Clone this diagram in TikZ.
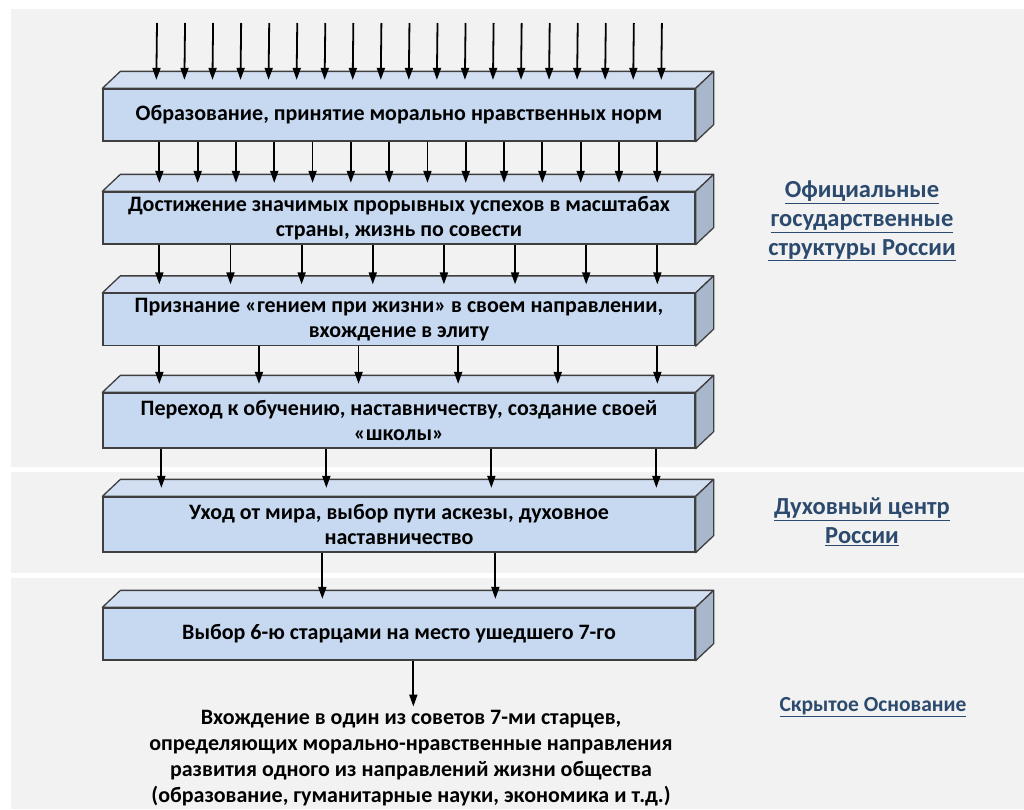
\documentclass[tikz,border=0pt]{standalone}
\usepackage{fontspec}
\setmainfont{Carlito}
\usetikzlibrary{arrows.meta,calc}
\definecolor{bandgray}{HTML}{F2F2F2}
\definecolor{slabfront}{HTML}{C6D9F1}
\definecolor{slabtop}{HTML}{D2DFF2}
\definecolor{slabside}{HTML}{A8B7CB}
\definecolor{slabline}{HTML}{3F3F3F}
\definecolor{labelblue}{HTML}{2B4A6D}

\begin{document}
\begin{tikzpicture}[x=1pt,y=-1pt,
    slab/.style={draw=slabline, line width=1.3pt, fill=slabfront, minimum width=592pt,
      minimum height=52pt, inner sep=0pt, align=center,
      font=\bfseries\fontsize{22}{25}\selectfont},
    face/.style={draw=slabline, line width=1.3pt, line join=round},
    flow/.style={-{Triangle[length=12pt,width=8pt]}, line width=1.8pt},
    side/.style={text=labelblue, align=center, font=\bfseries\fontsize{24.5}{29}\selectfont},
    goaltext/.style={align=center, font=\bfseries\fontsize{22}{26}\selectfont}]

      % background bands
      \fill[white] (0,0) rectangle (1024,809);
      \fill[bandgray] (11,9) rectangle (1024,467);
      \fill[bandgray] (11,472) rectangle (1024,573);
      \fill[bandgray] (11,578) rectangle (1024,809);
      \useasboundingbox (0,0) rectangle (1024,809);

      \node[slab] (b1) at (399,115) {Образование, принятие морально нравственных норм};
      \node[slab] (b2) at (399,218) {Достижение значимых прорывных успехов в масштабах\\страны, жизнь по совести};
      \node[slab] (b3) at (399,319.5) {Признание «гением при жизни» в своем направлении,\\вхождение в элиту};
      \node[slab, minimum height=55pt] (b4) at (399,420.5) {Переход к обучению, наставничеству, создание своей\\«школы»};
      \node[slab, minimum height=55pt] (b5) at (399,524.5) {Уход от мира, выбор пути аскезы, духовное\\наставничество};
      \node[slab] (b6) at (399,634) {Выбор 6-ю старцами на место ушедшего 7-го};

      % top and side faces
      \foreach \b in {b1,b2,b3,b4,b5,b6} {
        \filldraw[face, fill=slabtop] (\b.north west) -- ++(18,-17)
          -- ($(\b.north east)+(18,-17)$) -- (\b.north east) -- cycle;
        \filldraw[face, fill=slabside] (\b.north east) -- ++(18,-17)
          -- ($(\b.south east)+(18,-17)$) -- (\b.south east) -- cycle;
        \coordinate (t\b) at ($(\b.north west)+(0,-8.5)$);
      }

      \node[goaltext] (goal) at (411,758) {Вхождение в один из советов 7-ми старцев,\\определяющих морально-нравственные направления\\развития одного из направлений жизни общества\\(образование, гуманитарные науки, экономика и т.д.)};

      \node[side] (official) at (862,221) {\underline{Официальные}\\\underline{государственные}\\\underline{структуры России}};
      \node[side] (spirit) at (862,522) {\underline{Духовный центр}\\\underline{России}};
      \node[side, font=\bfseries\fontsize{21.5}{26}\selectfont] (hidden) at (873,707) {\underline{Скрытое Основание}};

      % arrows, thinning out row by row
      \coordinate (feed) at (103,23);
      \foreach \i [evaluate=\i as \o using 54+28.05*\i] in {0,...,18}
        \draw[flow] ([xshift=\o pt]feed) -- ([xshift=\o pt]tb1);
      \foreach \i [evaluate=\i as \o using 57+38.3*\i] in {0,...,13}
        \draw[flow] ([xshift=\o pt]b1.south west) -- ([xshift=\o pt]tb2);
      \foreach \i [evaluate=\i as \o using 57+71.14*\i] in {0,...,7}
        \draw[flow] ([xshift=\o pt]b2.south west) -- ([xshift=\o pt]tb3);
      \foreach \i [evaluate=\i as \o using 57+99.6*\i] in {0,...,5}
        \draw[flow] ([xshift=\o pt]b3.south west) -- ([xshift=\o pt]tb4);
      \foreach \i [evaluate=\i as \o using 59+165*\i] in {0,...,3}
        \draw[flow] ([xshift=\o pt]b4.south west) -- ([xshift=\o pt]tb5);
      \foreach \o in {220,393}
        \draw[flow] ([xshift=\o pt]b5.south west) -- ([xshift=\o pt]tb6);
      \coordinate (drop) at ([xshift=311pt]b6.south west);
      \draw[flow] (drop) -- (drop |- goal.north);
    \end{tikzpicture}
\end{document}
